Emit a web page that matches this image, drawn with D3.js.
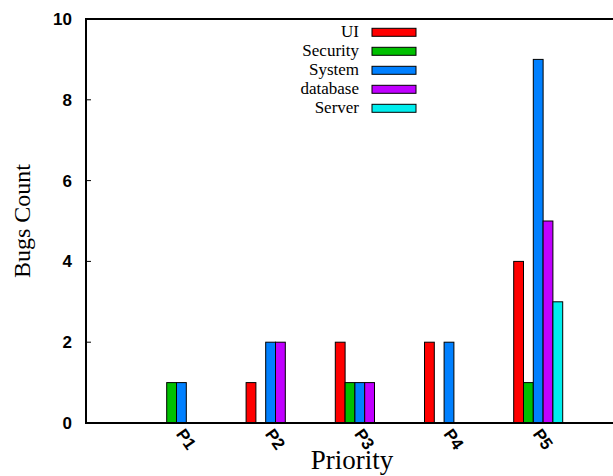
<!DOCTYPE html>
<html>
  <head>
    <meta charset="utf-8">
    <title>Bugs Count by Priority</title>
    <script src="https://d3js.org/d3.v7.min.js"></script>
    <style>
      body { margin: 0; background: #fff; }
      .ytick { font: bold 17px "Liberation Sans", Arial, sans-serif; }
      .xtick { font: bold 17px "Liberation Sans", Arial, sans-serif; }
      .serif { font-family: "Liberation Serif", "Times New Roman", serif; }
    </style>
  </head>
  <body>
    <div id="chart"></div>
    <script>
      "use strict"

      // data
      const priorities = ["P1", "P2", "P3", "P4", "P5"];
      const seriesNames = ["UI", "Security", "System", "database", "Server"];
      const seriesColors = ["#ff0000", "#00c000", "#0080ff", "#c000ff", "#00eeee"];
      const uiCounts       = [0, 1, 2, 2, 4];
      const securityCounts = [1, 0, 1, 0, 1];
      const systemCounts   = [1, 2, 1, 2, 9];
      const databaseCounts = [0, 2, 1, 0, 5];
      const serverCounts   = [0, 0, 0, 0, 3];
      const yTicks = [0, 2, 4, 6, 8, 10];

      const allCounts = [uiCounts, securityCounts, systemCounts, databaseCounts, serverCounts];

      var larguraSVG = 613, alturaSVG = 476;
      var margin = {top: 19, left: 86, bottom: 423};

      var svg = d3.select("#chart").append("svg")
        .attr("width", larguraSVG)
        .attr("height", alturaSVG);

      var y = d3.scaleLinear().domain([0, 10]).range([margin.bottom, margin.top]);
      var x0 = d3.scalePoint().domain(priorities).range([181.4, 538.2]);
      var x1 = d3.scaleBand().domain(seriesNames).range([-24.5, 24.5]);

      // bars
      var linhas = [];
      allCounts.forEach((vals, s) => vals.forEach((v, i) =>
        linhas.push({cat: priorities[i], serie: seriesNames[s], cor: seriesColors[s], valor: v})));

      svg.append("g").selectAll("rect")
        .data(linhas.filter(d => d.valor > 0))
        .enter().append("rect")
          .attr("x", d => x0(d.cat) + x1(d.serie))
          .attr("y", d => y(d.valor))
          .attr("width", x1.bandwidth())
          .attr("height", d => y(0) - y(d.valor))
          .attr("fill", d => d.cor)
          .attr("stroke", "#000")
          .attr("stroke-width", 1);

      // frame: left, top, bottom
      svg.append("path")
        .attr("d", `M${larguraSVG + 5},${y(10)}H${margin.left}V${y(0)}H${larguraSVG + 5}`)
        .attr("fill", "none")
        .attr("stroke", "#000")
        .attr("stroke-width", 2);

      // y ticks (inward) and labels
      var yg = svg.append("g");
      yg.selectAll("line").data(yTicks).enter().append("line")
        .attr("x1", margin.left).attr("x2", margin.left + 5)
        .attr("y1", d => y(d)).attr("y2", d => y(d))
        .attr("stroke", "#000").attr("stroke-width", 1);
      yg.selectAll("text").data(yTicks).enter().append("text")
        .attr("class", "ytick")
        .attr("x", 72)
        .attr("y", d => y(d) + 6)
        .attr("text-anchor", "end")
        .text(d => d);

      // x labels, rotated
      svg.append("g").selectAll("text").data(priorities).enter().append("text")
        .attr("class", "xtick")
        .attr("transform", d => `translate(${x0(d) - 6},${y(0) + 11}) rotate(55)`)
        .attr("text-anchor", "start")
        .text(d => d);

      // axis titles
      svg.append("text")
        .attr("class", "serif")
        .attr("x", 352).attr("y", 469)
        .attr("text-anchor", "middle")
        .style("font-size", "27px")
        .text("Priority");

      svg.append("text")
        .attr("class", "serif")
        .attr("transform", "translate(30,221) rotate(-90)")
        .attr("text-anchor", "middle")
        .style("font-size", "24px")
        .text("Bugs Count");

      // legend
      var legenda = svg.append("g").selectAll("g")
        .data(seriesNames).enter().append("g")
          .attr("transform", (d, i) => `translate(0,${32.3 + i * 19})`);
      legenda.append("text")
        .attr("class", "serif")
        .attr("x", 359).attr("y", 5)
        .attr("text-anchor", "end")
        .style("font-size", "17px")
        .text(d => d);
      legenda.append("rect")
        .attr("x", 372).attr("y", -4)
        .attr("width", 44).attr("height", 8)
        .attr("fill", (d, i) => seriesColors[i])
        .attr("stroke", "#000")
        .attr("stroke-width", 1);
    </script>
  </body>
</html>
